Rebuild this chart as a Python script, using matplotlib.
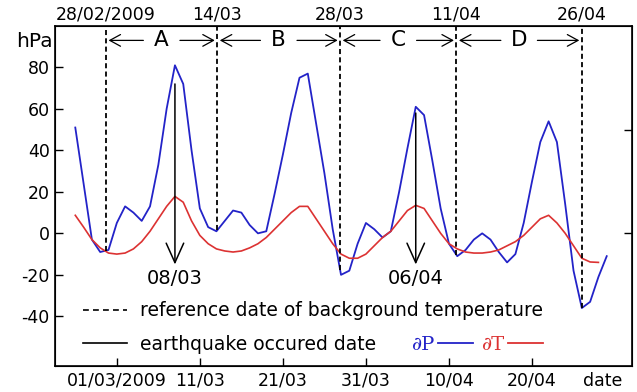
"""
Pressure / temperature anomaly around the 2009 earthquakes.
"""

import numpy as np
import matplotlib.pyplot as plt
from matplotlib.lines import Line2D

plt.rcParams["font.family"] = ["DejaVu Sans"]
plt.rcParams["axes.unicode_minus"] = False

# day index: 0 = 01/03/2009
days_p = list(range(-5, 60))
dp = [51, 24, -3, -9, -8, 5, 13, 10, 6, 13,
      33, 60, 81, 72, 40, 12, 3, 1, 6, 11,
      10, 4, 0, 1, 19, 38, 58, 75, 77, 53,
      29, 2, -20, -18, -5, 5, 2, -2, 1, 20,
      41, 61, 57, 35, 12, -5, -11, -8, -3, 0,
      -3, -9, -14, -10, 5, 25, 44, 54, 44, 14,
      -18, -36, -33, -21, -11]

days_t = list(range(-5, 59))
dt = [8.7, 3, -3, -7, -9.5, -10, -9.5, -7.5, -4, 1,
      7, 13, 17.8, 15, 6, -1, -5, -7.5, -8.5, -9,
      -8.5, -7, -5, -2, 2, 6, 10, 13, 13, 7,
      1, -5, -10, -12, -12, -10, -6, -2, 1, 6,
      11, 13.5, 12, 6, 0, -5, -7.5, -9, -9.5, -9.5,
      -9, -8, -6, -4, -1, 3, 7, 8.7, 5, 0,
      -6, -12, -13.8, -14]

tick_days = [0, 10, 20, 30, 40, 50]
tick_labels = ["01/03/2009", "11/03", "21/03", "31/03", "10/04", "20/04"]

ref_days = [-1.3, 12.1, 26.9, 40.9, 56.0]
ref_labels = ["28/02/2009", "14/03", "28/03", "11/04", "26/04"]
period_labels = ["A", "B", "C", "D"]

eq_days = [7, 36]
eq_top = [72, 58]
eq_labels = ["08/03", "06/04"]

BLUE = "#2323c8"
RED = "#dc3232"

fig = plt.figure(figsize=(6.37, 3.92), dpi=100)
ax = fig.add_axes([0.0856, 0.066, 0.906, 0.868])
ax.set_xlim(-7.5, 62)
ax.set_ylim(-64, 100)

ax.plot(days_p, dp, color=BLUE, lw=1.3)
ax.plot(days_t, dt, color=RED, lw=1.2)

# reference dates (dashed) from the dP curve up to the top
ref_bottom = np.interp(ref_days, days_p, dp)
for x, yb, lab in zip(ref_days, ref_bottom, ref_labels):
    ax.plot([x, x], [yb, 100], color="black", lw=1.3, ls=(0, (2.8, 1.8)), clip_on=False)
    ax.text(x, 1.018, lab, transform=ax.get_xaxis_transform(), ha="center", va="baseline", fontsize=12.5)

# periods A-D with arrows
y_arr = 93
for i, lab in enumerate(period_labels):
    x0, x1 = ref_days[i], ref_days[i + 1]
    xm = (x0 + x1) / 2
    ax.text(xm, y_arr, lab, ha="center", va="center", fontsize=15.5)
    gap = 2.2
    for xs, xe in [(xm - gap, x0 + 0.3), (xm + gap, x1 - 0.3)]:
        ax.annotate("", xy=(xe, y_arr), xytext=(xs, y_arr),
                    arrowprops=dict(arrowstyle="->,head_length=0.55,head_width=0.3", lw=0.9, color="black",
                                    shrinkA=0, shrinkB=0, mutation_scale=14))

# earthquake dates
for x, yt, lab in zip(eq_days, eq_top, eq_labels):
    ax.annotate("", xy=(x, -15), xytext=(x, yt),
                arrowprops=dict(arrowstyle="->,head_length=1.0,head_width=0.45", lw=1.1, color="black",
                                shrinkA=0, shrinkB=0, mutation_scale=14))
    ax.text(x, -17, lab, ha="center", va="top", fontsize=14)

ax.set_xticks(tick_days)
ax.set_xticklabels(tick_labels, fontsize=12.5)
ax.set_yticks([-40, -20, 0, 20, 40, 60, 80])
ax.tick_params(axis="both", direction="in", length=6, labelsize=12.5, width=1)
ax.tick_params(axis="x", pad=4)
for s in ax.spines.values():
    s.set_linewidth(1.2)

ax2 = ax.twinx()
ax2.set_ylim(ax.get_ylim())
ax2.set_yticks([0, 50])
ax2.set_yticklabels([])
ax2.tick_params(axis="y", direction="in", length=6, width=1)

ax.text(58.5, -0.016, "date", transform=ax.get_xaxis_transform(), ha="center", va="top", fontsize=12.5)
fig.text(0.025, 0.893, "hPa", ha="left", va="center", fontsize=14.5)

h1 = [Line2D([], [], color="black", lw=1.2, ls=(0, (3.5, 2.5))),
      Line2D([], [], color="black", lw=1.2)]
leg1 = ax.legend(h1, ["reference date of background temperature", "earthquake occured date"],
                 loc="upper left", bbox_to_anchor=(0.049, 0.19), frameon=False, fontsize=13.5,
                 handlelength=2.35, handletextpad=0.7, labelspacing=0.75, borderpad=0, borderaxespad=0)
ax.add_artist(leg1)

h2 = [Line2D([], [], color=BLUE, lw=1.3), Line2D([], [], color=RED, lw=1.3)]
leg2 = ax.legend(h2, ["∂P", "∂T"], loc="upper left", bbox_to_anchor=(0.618, 0.09), ncol=2,
                 markerfirst=False, frameon=False, prop={"family": "DejaVu Serif", "size": 14},
                 handlelength=1.8, handletextpad=0.2, columnspacing=0.4, borderpad=0, borderaxespad=0)
for t, c in zip(leg2.get_texts(), [BLUE, RED]):
    t.set_color(c)

fig.savefig("out.png", dpi=100)
